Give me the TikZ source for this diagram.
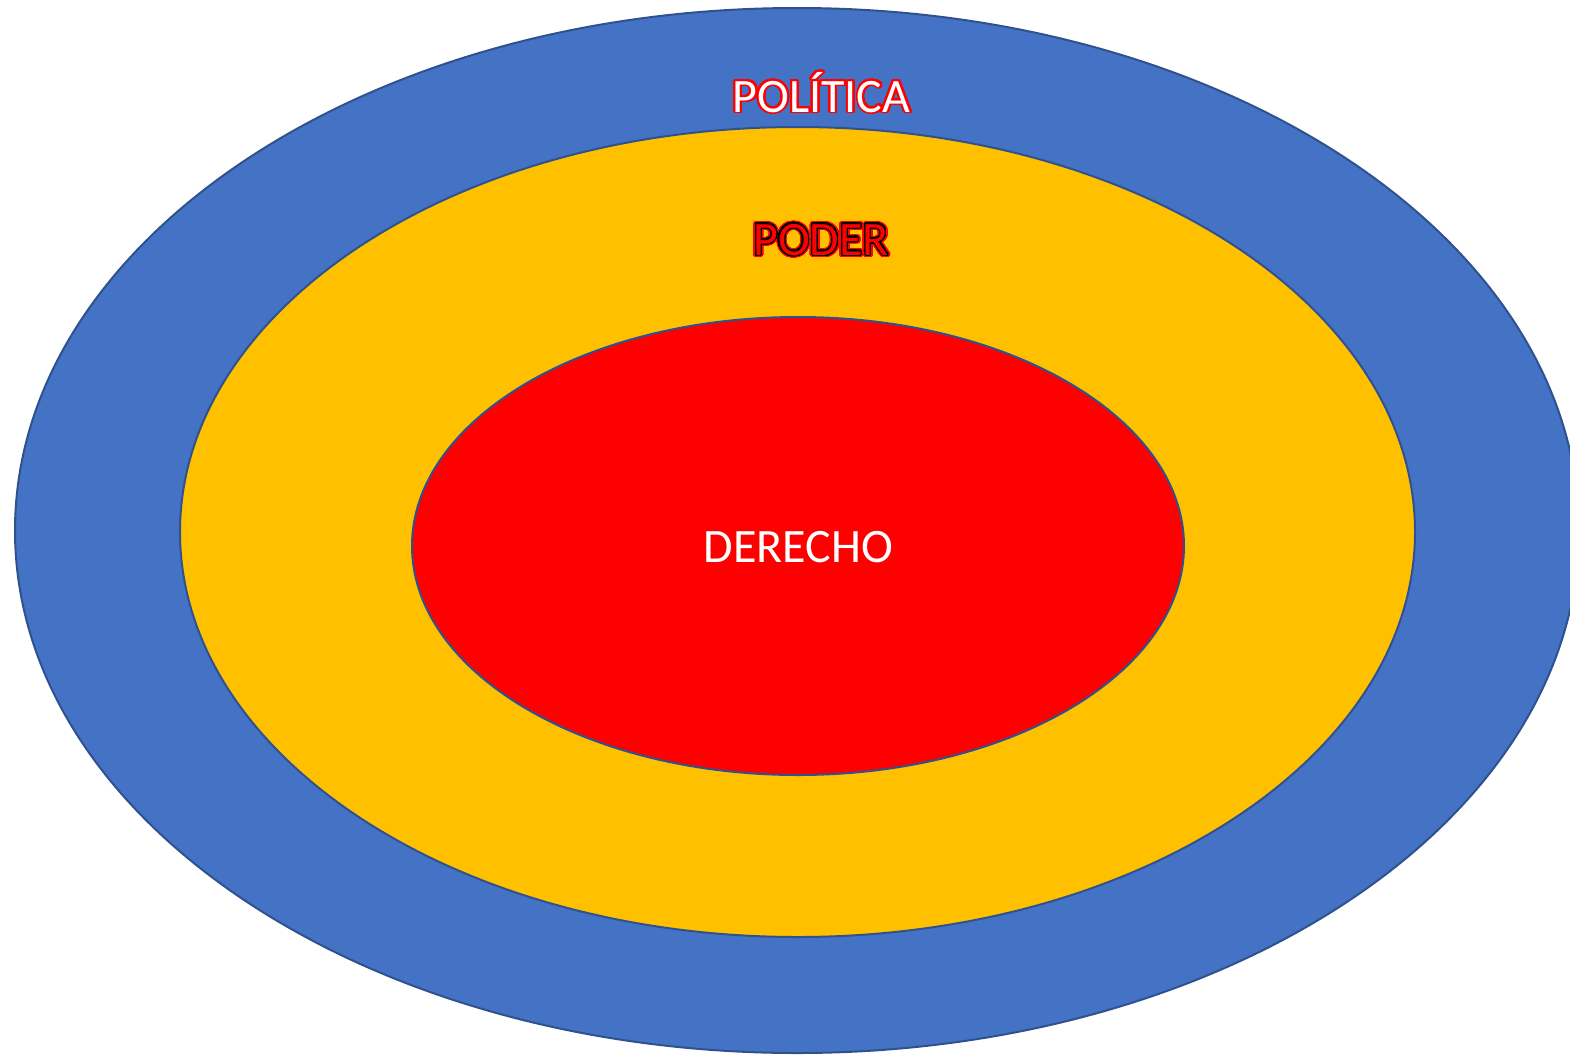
\documentclass[tikz,border=0pt]{standalone}
\usepackage{fontspec}
\setmainfont{Carlito}
\usepackage[copies]{contour}
\contournumber{48}
\usetikzlibrary{positioning}
\definecolor{azul}{RGB}{68,114,196}
\definecolor{borde}{RGB}{47,82,143}
\definecolor{amarillo}{RGB}{255,192,0}
\definecolor{rojo}{RGB}{255,0,0}
\tikzset{
    % 椭圆环
    ring/.style={
        line width=2pt,
        draw=borde
    },
    % 文字
    etiqueta/.style={
        font=\fontsize{48}{52}\selectfont,
        inner sep=0pt,
        anchor=base
    }
}

\begin{document}
\begin{tikzpicture}[x=1pt,y=-1pt]
	\useasboundingbox (0,0) rectangle (1570,1055);
	
	% 三个椭圆
	\draw[ring,fill=azul] (797,530.5) ellipse (782 and 522.5);
	\draw[ring,fill=amarillo] (797.5,532) ellipse (617.5 and 405);
	\draw[ring,fill=rojo] (798,546) ellipse (386 and 229);
	
	% 文字标注
	\node[etiqueta,white] (politica) at (821.5,112)
	{\contourlength{1.9pt}\contour{rojo}{POLÍTICA}};
	
	\node[etiqueta,black] (poderborde) at (821,255)
	{\contourlength{2.8pt}\contour{rojo}{PODER}};
	\node[etiqueta,rojo] (poder) at (poderborde.base)
	{\contourlength{1.1pt}\contour{black}{PODER}};
	
	\node[etiqueta,white] (derecho) at (798.5,562) {DERECHO};
\end{tikzpicture}
\end{document}
